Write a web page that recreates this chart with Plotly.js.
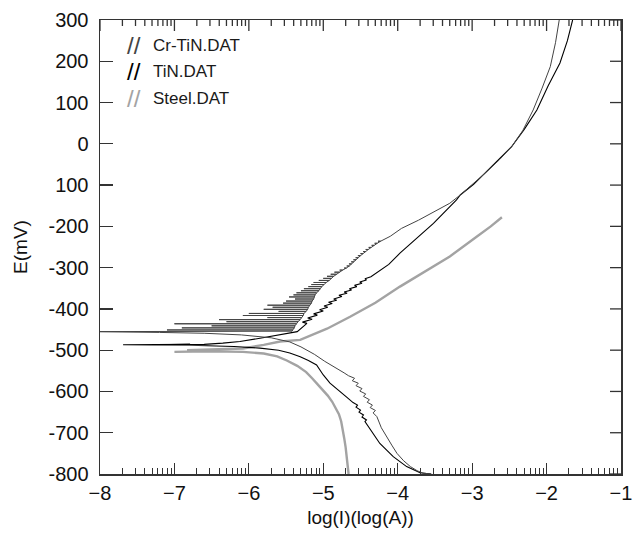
<!DOCTYPE html>
<html>
<head>
<meta charset="utf-8">
<script src="https://cdn.plot.ly/plotly-3.0.1.min.js"></script>
<style>html,body{margin:0;padding:0;background:#fff;}#chart{width:635px;height:538px;}</style>
</head>
<body>
<div id="chart"></div>
<script>
// ---------- data (x = log(I), E in mV) ----------
// Cr-TiN: cathodic branch (bottom -> Ecorr)
var crtinCathX = [-3.55,-3.66,-3.74,-3.83,-3.92,-4.01,-4.08,-4.15,-4.22,-4.28,-4.33,-4.30,-4.37,-4.34,-4.41,-4.38,-4.46,-4.43,-4.51,-4.48,-4.56,-4.53,-4.61,-4.58,-4.66,-4.72,-4.80,-4.87,-4.98,-5.12,-5.30,-5.45,-5.70,-6.10,-6.60,-7.20,-8.10,-5.42];
var crtinCathE = [-800,-798,-792,-782,-768,-750,-730,-710,-688,-661,-652,-646,-639,-633,-626,-620,-612,-606,-599,-593,-586,-580,-574,-568,-562,-555,-547,-540,-527,-510,-492,-480,-470,-463,-459,-457,-455,-454];
// Cr-TiN: noisy anodic region near Ecorr (E, left end of excursion, right end on the curve)
var crtinSpikeE = [-451,-446,-441,-436,-431,-426,-421,-416,-411,-406,-401,-396,-391,-386,-381,-376,-371,-366,-361,-356,-351,-346,-341,-336,-331,-326,-321,-316,-311,-306,-301,-296,-291,-286,-281,-276,-271,-266,-261,-256,-251,-246,-241,-236];
var crtinSpikeL = [-7.10,-6.90,-6.50,-7.00,-6.30,-6.40,-5.75,-6.08,-6.00,-5.60,-5.80,-5.68,-5.75,-5.54,-5.50,-5.38,-5.46,-5.40,-5.36,-5.30,-5.26,-5.20,-5.16,-5.13,-5.06,-5.00,-4.95,-4.90,-4.85,-4.78,-4.72,-4.685,-4.655,-4.625,-4.595,-4.565,-4.535,-4.50,-4.465,-4.43,-4.39,-4.35,-4.31,-4.265];
var crtinSpikeR = [-5.41,-5.39,-5.38,-5.36,-5.34,-5.31,-5.29,-5.27,-5.26,-5.23,-5.21,-5.20,-5.18,-5.16,-5.15,-5.13,-5.12,-5.11,-5.09,-5.06,-5.04,-5.02,-4.99,-4.96,-4.92,-4.89,-4.86,-4.82,-4.78,-4.74,-4.69,-4.65,-4.62,-4.59,-4.56,-4.53,-4.50,-4.465,-4.43,-4.395,-4.355,-4.315,-4.275,-4.23];
// Cr-TiN: anodic branch (up to the top)
var crtinAnodX = [-4.10,-3.95,-3.72,-3.50,-3.30,-3.16,-2.98,-2.80,-2.63,-2.47,-2.32,-2.18,-2.06,-1.95,-1.88,-1.83];
var crtinAnodE = [-224,-205,-185,-163,-144,-124,-96,-67,-38,-7,32,82,135,187,245,300];

// TiN: cathodic branch (bottom -> Ecorr) with the flat excursion at Ecorr
var tinCathX = [-3.55,-3.70,-3.88,-4.06,-4.24,-4.37,-4.44,-4.42,-4.48,-4.46,-4.52,-4.50,-4.56,-4.54,-4.60,-4.69,-4.80,-4.91,-5.00,-5.09,-5.20,-5.31,-5.45,-5.60,-5.85,-6.20,-6.80,-7.69,-6.79,-7.33,-6.60,-6.35];
var tinCathE = [-800,-797,-782,-758,-726,-693,-673,-669,-662,-657,-650,-645,-638,-633,-627,-613,-596,-580,-560,-536,-525,-516,-507,-500,-495,-491,-488,-487,-486,-487,-486,-483];
// TiN: anodic branch
var tinAnodX = [-6.12,-5.85,-5.58,-5.35,-5.22,-5.28,-5.15,-5.21,-5.08,-5.13,-5.00,-5.05,-4.94,-4.99,-4.88,-4.93,-4.82,-4.86,-4.75,-4.79,-4.68,-4.72,-4.62,-4.65,-4.55,-4.58,-4.48,-4.51,-4.42,-4.44,-4.36,-4.33,-4.12,-3.97,-3.77,-3.52,-3.21,-3.16,-2.98,-2.85,-2.65,-2.47,-2.30,-2.13,-1.98,-1.82,-1.72,-1.65];
var tinAnodE = [-479,-471,-463,-455,-435,-432,-425,-422,-415,-412,-405,-402,-396,-393,-387,-384,-379,-376,-370,-367,-362,-359,-354,-351,-346,-343,-338,-335,-330,-327,-322,-318,-292,-265,-232,-193,-136,-124,-98,-75,-40,-7,35,82,140,196,250,300];

// Steel
var steelX = [-4.66,-4.67,-4.68,-4.70,-4.72,-4.74,-4.76,-4.79,-4.83,-4.88,-4.94,-5.00,-5.07,-5.15,-5.23,-5.35,-5.49,-5.62,-5.80,-6.08,-6.50,-7.00,-6.40,-6.83,-6.08,-5.80,-5.58,-5.31,-4.95,-4.64,-4.30,-3.97,-3.64,-3.30,-2.94,-2.75,-2.60];
var steelE = [-800,-780,-760,-735,-712,-690,-672,-655,-640,-625,-610,-597,-584,-568,-553,-538,-525,-515,-508,-504,-503,-504,-502,-500,-496,-487,-479,-475,-448,-419,-385,-346,-310,-273,-225,-200,-178];

var seriesNames = ['Cr-TiN.DAT','TiN.DAT','Steel.DAT'];
var seriesColors = ['#444444','#000000','#a3a3a3'];
var yTickVals = [300,200,100,0,-100,-200,-300,-400,-500,-600,-700,-800];
var yTickText = ['300','200','100','0','100','-200','-300','-400','-500','-600','-700','-800'];
var xTickVals = [-8,-7,-6,-5,-4,-3,-2,-1];

// ---------- build traces ----------
var crX = crtinCathX.slice(), crE = crtinCathE.slice();
for (var i=0;i<crtinSpikeE.length;i++){
  crX.push(crtinSpikeR[i], crtinSpikeL[i], crtinSpikeR[i]);
  crE.push(crtinSpikeE[i], crtinSpikeE[i], crtinSpikeE[i]);
}
crX = crX.concat(crtinAnodX); crE = crE.concat(crtinAnodE);

var tX = tinCathX.concat(tinAnodX), tE = tinCathE.concat(tinAnodE);

var minorVals = [];
for (var n=-8;n<-1;n++){ for (var k=2;k<=9;k++){ minorVals.push(n+Math.log10(k)); } }

var traces = [
  {x: steelX, y: steelE, mode:'lines', line:{color:seriesColors[2], width:2.4}, name:seriesNames[2], hoverinfo:'skip'},
  {x: tX, y: tE, mode:'lines', line:{color:seriesColors[1], width:1.1}, name:seriesNames[1], hoverinfo:'skip'},
  {x: crX, y: crE, mode:'lines', line:{color:seriesColors[0], width:1.0}, name:seriesNames[0], hoverinfo:'skip'}
];

var font = 'Liberation Sans, Arial, sans-serif';
var annotations = [];
var legY = [0.944, 0.886, 0.826];
for (var j=0;j<3;j++){
  annotations.push({xref:'paper', yref:'paper', x:0.066, y:legY[j], xanchor:'center', yanchor:'middle', showarrow:false,
    text:'//', font:{family:font, size:24, color:seriesColors[j]}});
  annotations.push({xref:'paper', yref:'paper', x:0.098, y:legY[j], xanchor:'left', yanchor:'middle', showarrow:false,
    text:seriesNames[j], font:{family:font, size:17, color:'#1a1a1a'}});
}

// mirrored tick marks on the top and right frame edges (axis decoration built from the tick arrays)
var tickCol = '#333';
var plotW = 521, plotH = 454;
var shapes = [];
function topTick(v, len){ shapes.push({type:'line', layer:'above', xref:'x', yref:'paper', x0:v, x1:v, y0:1, y1:1-len/plotH, line:{color:tickCol, width:1.3}}); }
xTickVals.forEach(function(v){ topTick(v, 11); });
minorVals.forEach(function(v){ topTick(v, 6); });
yTickVals.forEach(function(v){ shapes.push({type:'line', layer:'above', xref:'paper', yref:'y', x0:1, x1:1-11/plotW, y0:v, y1:v, line:{color:tickCol, width:1.3}}); });

var layout = {
  width:635, height:538,
  margin:{l:100, r:14, t:20, b:64},
  paper_bgcolor:'#fff', plot_bgcolor:'#fff',
  showlegend:false,
  font:{family:font, color:'#111'},
  xaxis:{range:[-8,-1], tickmode:'array', tickvals:xTickVals, ticks:'inside', ticklen:11, tickwidth:1.2, tickcolor:tickCol,
    showline:true, linecolor:'#333', linewidth:1.5, mirror:true, showgrid:false, zeroline:false,
    tickfont:{size:20, family:font, color:'#111'},
    minor:{tickmode:'array', tickvals:minorVals, ticks:'inside', ticklen:6, tickwidth:1, tickcolor:tickCol, showgrid:false},
    title:{text:'log(I)(log(A))', font:{size:19, family:font, color:'#111'}, standoff:8}},
  yaxis:{range:[-800,300], tickmode:'array', tickvals:yTickVals, ticktext:yTickText, ticks:'inside', ticklen:13, tickwidth:1.2, tickcolor:tickCol,
    showline:true, linecolor:'#333', linewidth:1.5, mirror:true, showgrid:false, zeroline:false,
    tickfont:{size:20, family:font, color:'#111'}, ticklabelstandoff:6,
    title:{text:'E(mV)', font:{size:19, family:font, color:'#111'}, standoff:16}},
  shapes:shapes,
  annotations:annotations
};

Plotly.newPlot('chart', traces, layout, {displayModeBar:false, staticPlot:true});
</script>
</body>
</html>
